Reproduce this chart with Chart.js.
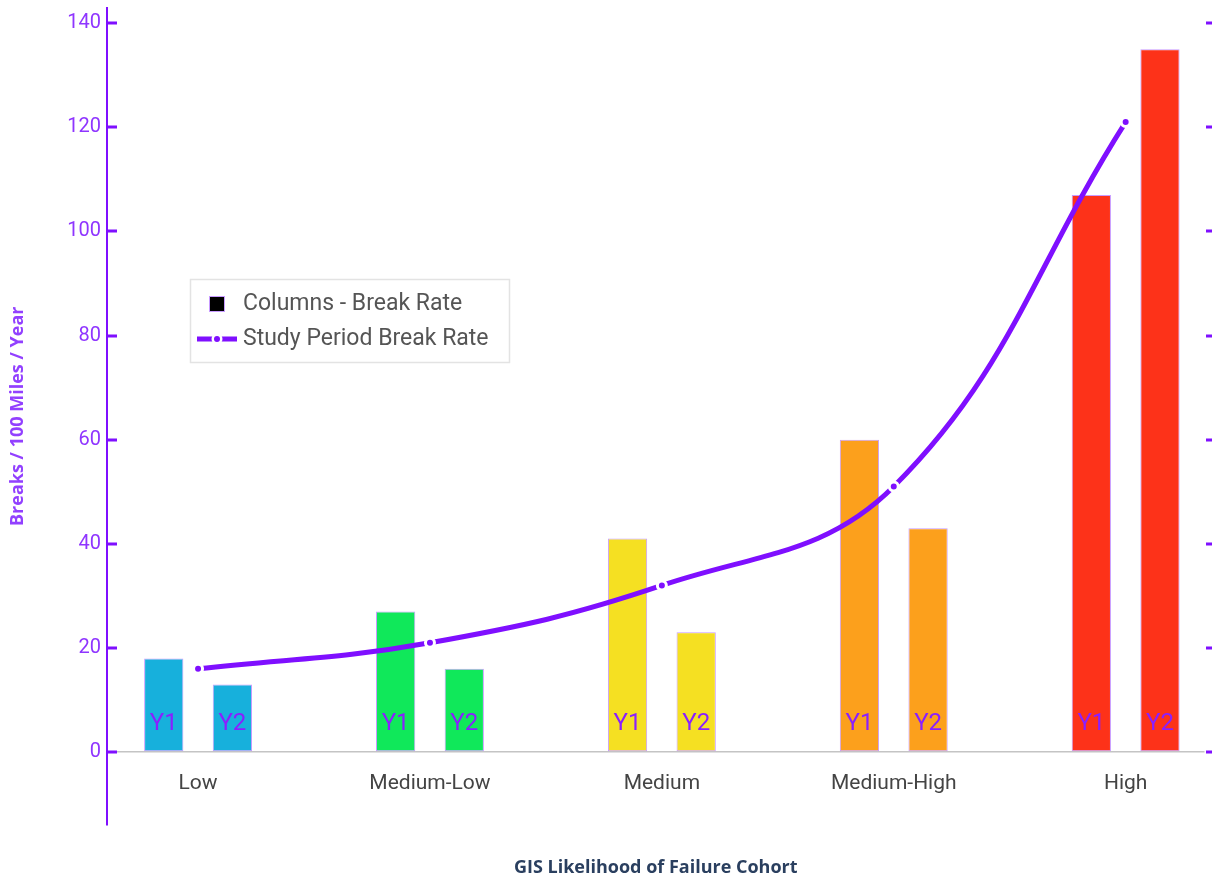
<!DOCTYPE html>
<html>
<head>
<meta charset="utf-8">
<title>Break Rate by GIS Likelihood of Failure Cohort</title>
<script src="https://cdn.jsdelivr.net/npm/chart.js@4/dist/chart.umd.min.js"></script>
<style>
  html, body { margin: 0; padding: 0; background: #ffffff; }
  #wrap { width: 1212px; height: 880px; position: relative; }
</style>
</head>
<body>
<div id="wrap"><canvas id="chart" width="1212" height="880"></canvas></div>
<script>
// Cohorts along the x axis
const cohorts = ['Low', 'Medium-Low', 'Medium', 'Medium-High', 'High'];
// Break rate per cohort, year 1 and year 2 columns
const year1Rate = [18, 27, 41, 60, 107];
const year2Rate = [13, 16, 23, 43, 135];
// Break rate over the whole study period
const studyPeriodRate = [16, 21, 32, 51, 121];
// Column labels and fill colours per cohort
const columnLabels = ['Y1', 'Y2'];
const cohortColors = ['#17b0dc', '#10e85a', '#f5e022', '#fca01c', '#fd3219'];
// Value axis ticks
const yTicks = [0, 20, 40, 60, 80, 100, 120, 140];
// Legend entries
const legendLabels = ['Columns - Break Rate', 'Study Period Break Rate'];

const PURPLE = '#7f0fff';
const TICK_PURPLE = '#8f35ff';

const asPoints = arr => arr.map((v, i) => ({ x: i, y: v }));

// Inward tick marks on the left axis and along the right edge
const tickMarks = {
  id: 'tickMarks',
  afterDraw(chart) {
    const { ctx, chartArea } = chart;
    const y = chart.scales.y;
    ctx.save();
    ctx.fillStyle = PURPLE;
    yTicks.forEach(v => {
      const py = Math.round(y.getPixelForValue(v));
      ctx.fillRect(chartArea.left, py - 1.5, 10, 3);
      ctx.fillRect(chart.width - 6, py - 1.5, 6, 3);
    });
    ctx.restore();
  }
};

// Category names placed just below the zero line, and Y1/Y2 inside each column
const innerLabels = {
  id: 'innerLabels',
  afterDatasetsDraw(chart) {
    const { ctx } = chart;
    const x = chart.scales.x;
    const y = chart.scales.y;
    ctx.save();
    ctx.font = '21px Roboto';
    ctx.fillStyle = '#444444';
    ctx.textAlign = 'center';
    ctx.textBaseline = 'middle';
    cohorts.forEach((c, i) => {
      ctx.fillText(c, x.getPixelForValue(i), y.getPixelForValue(0) + 32);
    });
    ctx.font = '24px Roboto';
    ctx.fillStyle = '#8a1fff';
    [0, 1].forEach(d => {
      chart.getDatasetMeta(d).data.forEach(bar => {
        ctx.fillText(columnLabels[d], bar.x, y.getPixelForValue(0) - 28);
      });
    });
    ctx.restore();
  }
};

// Boxed legend inside the plot area
const boxLegend = {
  id: 'boxLegend',
  afterDraw(chart) {
    const { ctx } = chart;
    const bx = 190, by = 279, bw = 319, bh = 83;
    ctx.save();
    ctx.fillStyle = '#ffffff';
    ctx.fillRect(bx, by, bw, bh);
    ctx.strokeStyle = '#e3e3e3';
    ctx.lineWidth = 1.5;
    ctx.strokeRect(bx + 0.5, by + 0.5, bw, bh);

    // column swatch
    ctx.fillStyle = '#000000';
    ctx.fillRect(209, 296, 16, 16);
    ctx.strokeStyle = '#c89bff';
    ctx.lineWidth = 1;
    ctx.strokeRect(209.5, 296.5, 15, 15);

    // line swatch
    ctx.strokeStyle = PURPLE;
    ctx.lineWidth = 5;
    ctx.beginPath();
    ctx.moveTo(197, 339);
    ctx.lineTo(237, 339);
    ctx.stroke();
    ctx.fillStyle = '#ffffff';
    ctx.beginPath();
    ctx.arc(217, 339, 5.5, 0, Math.PI * 2);
    ctx.fill();
    ctx.fillStyle = PURPLE;
    ctx.beginPath();
    ctx.arc(217, 339, 3, 0, Math.PI * 2);
    ctx.fill();

    ctx.font = '23px Roboto';
    ctx.fillStyle = '#555555';
    ctx.textAlign = 'left';
    ctx.textBaseline = 'middle';
    ctx.fillText(legendLabels[0], 243, 304);
    ctx.fillText(legendLabels[1], 243, 339);
    ctx.restore();
  }
};

const barStyle = {
  type: 'bar',
  backgroundColor: cohortColors,
  borderColor: '#c89bff',
  borderWidth: 1,
  borderSkipped: false,
  categoryPercentage: 0.592,
  barPercentage: 0.572,
  order: 1
};

new Chart(document.getElementById('chart'), {
  data: {
    datasets: [
      Object.assign({ label: columnLabels[0], data: asPoints(year1Rate) }, barStyle),
      Object.assign({ label: columnLabels[1], data: asPoints(year2Rate) }, barStyle),
      {
        type: 'line',
        label: legendLabels[1],
        data: asPoints(studyPeriodRate),
        borderColor: PURPLE,
        borderWidth: 5,
        tension: 0.4,
        pointRadius: 4.5,
        pointBackgroundColor: PURPLE,
        pointBorderColor: '#ffffff',
        pointBorderWidth: 3,
        order: 0
      }
    ]
  },
  options: {
    responsive: false,
    animation: false,
    devicePixelRatio: 1,
    layout: { padding: { top: 4, right: 2, left: 0, bottom: 0 } },
    plugins: {
      legend: { display: false },
      tooltip: { enabled: false }
    },
    scales: {
      x: {
        type: 'linear',
        offset: false,
        min: -0.3927,
        max: 4.34,
        afterBuildTicks: s => { s.ticks = cohorts.map((c, i) => ({ value: i })); },
        afterFit: s => { s.height = 55; s.paddingLeft = 0; s.paddingRight = 0; },
        ticks: { display: false },
        grid: { display: false, drawTicks: false },
        border: { display: false },
        title: {
          display: true,
          text: 'GIS Likelihood of Failure Cohort',
          color: '#2a3f5f',
          font: { family: 'Open Sans', size: 18, weight: 'bold' },
          padding: { top: 0, bottom: 1 }
        }
      },
      y: {
        type: 'linear',
        min: -14,
        max: 143,
        afterBuildTicks: s => { s.ticks = yTicks.map(v => ({ value: v })); },
        afterFit: s => { s.width = 107; s.paddingTop = 0; s.paddingBottom = 0; },
        ticks: {
          color: TICK_PURPLE,
          font: { family: 'Roboto', size: 20 },
          padding: 6
        },
        grid: {
          drawTicks: false,
          color: c => (c.tick && c.tick.value === 0 ? '#c4c4c4' : 'rgba(0,0,0,0)'),
          lineWidth: 1.5
        },
        border: { display: true, color: PURPLE, width: 2 },
        title: {
          display: true,
          text: 'Breaks / 100 Miles / Year',
          color: '#9240ff',
          font: { family: 'Open Sans', size: 18, weight: 'bold' },
          padding: { top: 7, bottom: 0 }
        }
      }
    }
  },
  plugins: [tickMarks, innerLabels, boxLegend]
});
</script>
</body>
</html>
